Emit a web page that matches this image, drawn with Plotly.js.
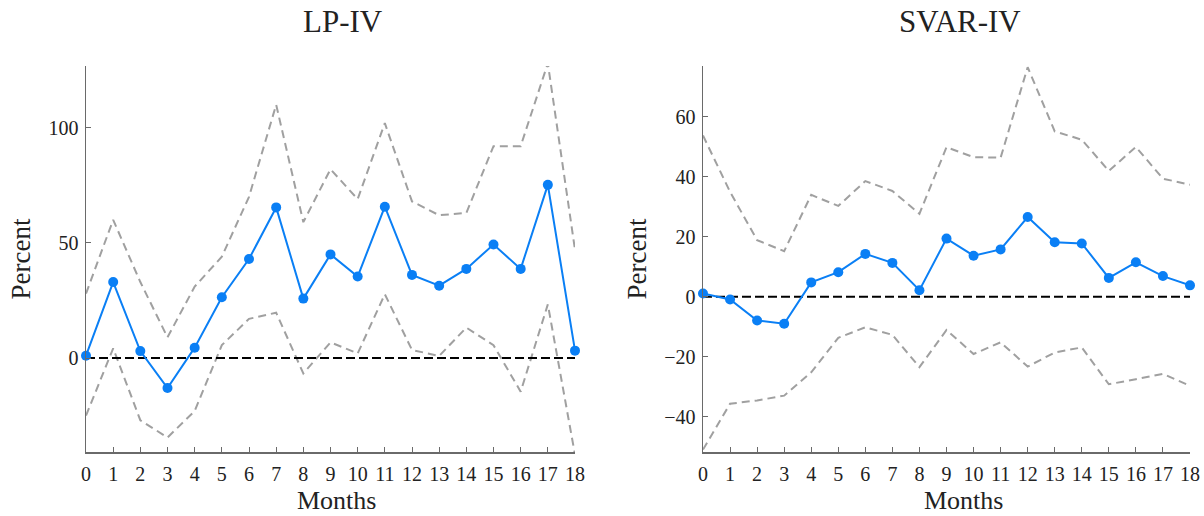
<!DOCTYPE html>
<html>
<head>
<meta charset="utf-8">
<script src="https://cdn.plot.ly/plotly-3.0.1.min.js"></script>
<style>html,body{margin:0;padding:0;background:#fff;}#chart{width:1204px;height:516px;}</style>
</head>
<body>
<div id="chart"></div>
<script>
const months = [0,1,2,3,4,5,6,7,8,9,10,11,12,13,14,15,16,17,18];

const lpPoint = [1,33,3,-13,4.5,26.4,43,65.4,25.8,45,35.4,65.7,36.1,31.4,38.7,49.3,38.7,75.2,3.2];
const lpUpper = [28,60,33,9,31,44,70,110,59,82,69,102,68,62,63,92,92,128,47];
const lpLower = [-25,4.2,-27,-34.5,-23,5.6,17,19.7,-6.7,6.8,2,27.7,3.5,0.9,13.2,5.6,-14.6,23.3,-42];

const svarPoint = [1.1,-0.9,-7.9,-9,4.8,8.2,14.3,11.3,2.2,19.4,13.7,15.8,26.6,18.2,17.8,6.3,11.5,6.9,3.8];
const svarUpper = [53.8,35,18.9,15.2,34,30.3,38.6,35.3,27.7,49.9,46.6,46.4,76.6,55.2,52.4,42,50,39.4,37.4];
const svarLower = [-51,-35.7,-34.6,-33,-25.2,-13.7,-10.2,-12.7,-23.5,-11.1,-19.1,-15.2,-23.3,-18.6,-16.9,-29.2,-27.5,-25.7,-29.7];

const zeroLine = [0,0];
const zeroX = [0,18];

const panelTitles = ["LP-IV","SVAR-IV"];
const xTitle = "Months";
const yTitle = "Percent";
const lpYTicks = [0,50,100];
const svarYTicks = [-40,-20,0,20,40,60];

const FONT = "'Liberation Serif', 'DejaVu Serif', serif";
const BLUE = "#0a7ff5";
const GRAY = "#a0a0a0";
const AXC = "#6a6a6a";

function panel(point, upper, lower, xa, ya) {
  return [
    {x: months, y: upper, xaxis: xa, yaxis: ya, mode: 'lines', line: {color: GRAY, width: 2, dash: '8px,5px'}, hoverinfo: 'skip'},
    {x: months, y: lower, xaxis: xa, yaxis: ya, mode: 'lines', line: {color: GRAY, width: 2, dash: '8px,5px'}, hoverinfo: 'skip'},
    {x: zeroX, y: zeroLine, xaxis: xa, yaxis: ya, mode: 'lines', line: {color: '#000', width: 2, dash: '9px,4px'}, hoverinfo: 'skip'},
    {x: months, y: point, xaxis: xa, yaxis: ya, mode: 'lines+markers', line: {color: BLUE, width: 2}, marker: {color: BLUE, size: 10}, cliponaxis: false}
  ];
}

const data = [].concat(
  panel(lpPoint, lpUpper, lpLower, 'x', 'y'),
  panel(svarPoint, svarUpper, svarLower, 'x2', 'y2')
);

function xaxis(domain, anchor) {
  return {
    domain: domain, anchor: anchor, range: [0,18], tickvals: months, ticktext: months.map(String),
    showgrid: false, zeroline: false, showline: true, linecolor: AXC, linewidth: 1.5,
    ticks: 'inside', ticklen: 5, tickcolor: AXC, ticklabelstandoff: 3,
    tickfont: {family: FONT, size: 20, color: '#222'}
  };
}
function yaxis(domain, anchor, range, ticks) {
  return {
    domain: domain, anchor: anchor, range: range, tickvals: ticks,
    showgrid: false, zeroline: false, showline: true, linecolor: AXC, linewidth: 1.5,
    ticks: 'inside', ticklen: 5, tickcolor: AXC, ticklabelstandoff: 2,
    tickfont: {family: FONT, size: 20, color: '#222'},
    title: {text: yTitle, font: {family: FONT, size: 27, color: '#222'}, standoff: 10}
  };
}

const titleFont = {family: FONT, size: 31, color: '#222'};
const axFont = {family: FONT, size: 26, color: '#222'};
const yDom = [1 - 452/516, 1 - 66/516];
const layout = {
  width: 1204, height: 516,
  margin: {l: 0, r: 0, t: 0, b: 0},
  paper_bgcolor: '#fff', plot_bgcolor: '#fff',
  showlegend: false,
  xaxis: xaxis([86/1204, 575/1204], 'y'),
  yaxis: yaxis(yDom, 'x', [-40.8, 126.8], lpYTicks),
  xaxis2: xaxis([703/1204, 1190/1204], 'y2'),
  yaxis2: yaxis(yDom, 'x2', [-51.8, 77], svarYTicks),
  annotations: [
    {text: panelTitles[0], xref: 'paper', yref: 'paper', x: 343/1204, y: 1 - 22/516, xanchor: 'center', yanchor: 'middle', showarrow: false, font: titleFont},
    {text: panelTitles[1], xref: 'paper', yref: 'paper', x: 960/1204, y: 1 - 22/516, xanchor: 'center', yanchor: 'middle', showarrow: false, font: titleFont},
    {text: xTitle, xref: 'paper', yref: 'paper', x: 336/1204, y: 0, xanchor: 'center', yanchor: 'bottom', borderpad: 0, showarrow: false, font: axFont},
    {text: xTitle, xref: 'paper', yref: 'paper', x: 963/1204, y: 0, xanchor: 'center', yanchor: 'bottom', borderpad: 0, showarrow: false, font: axFont}
  ]
};

Plotly.newPlot('chart', data, layout, {staticPlot: true, displayModeBar: false});
</script>
</body>
</html>
